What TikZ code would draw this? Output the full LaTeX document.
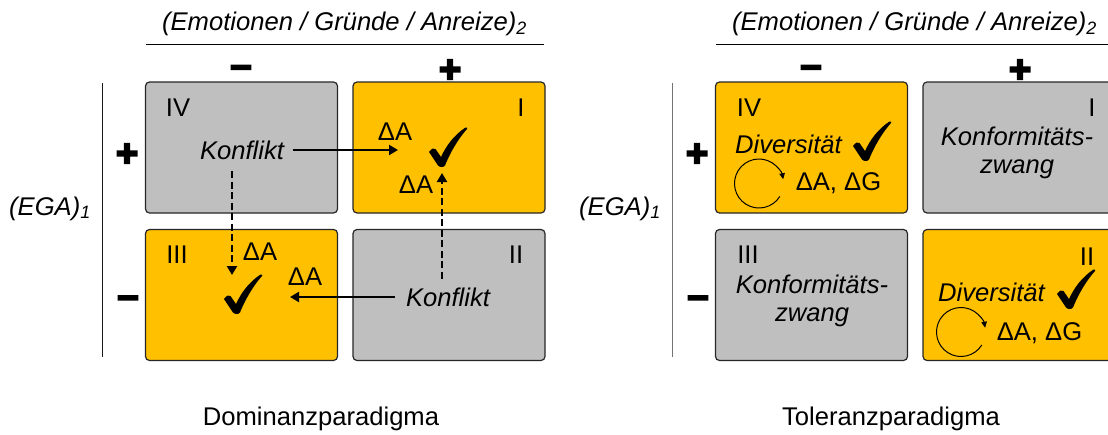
\documentclass[tikz,border=0pt]{standalone}
\usepackage{fontspec}
\setmainfont{Liberation Sans}
\newfontfamily\signfont{Liberation Sans Bold}[FakeBold=5]
\usetikzlibrary{arrows.meta}
\definecolor{quadorange}{HTML}{FFC000}
\definecolor{quadgray}{HTML}{BFBFBF}
\tikzset{
  quad/.style={draw=black!85, line width=1.2pt, rounded corners=4pt,
    minimum width=192pt, minimum height=131pt, inner sep=0pt},
  good/.style={quad, fill=quadorange},
  bad/.style={quad, fill=quadgray},
  txt/.style={font=\fontsize{25.6}{28}\selectfont, inner sep=2pt},
  itxt/.style={font=\fontsize{25.6}{28}\selectfont\itshape, inner sep=2pt},
  sgn/.style={font=\fontsize{38}{38}\signfont, inner sep=0pt},
  push/.style={line width=2.8pt, -{Triangle[length=9pt,width=10pt]}},
  dpush/.style={push, dash pattern=on 7pt off 3.5pt},
  cyc/.style={line width=1pt, -{Triangle[length=6pt,width=5.5pt]}},
  chk/.pic={
    \fill (-13,-14) .. controls (-10.5,-17.5) and (-8,-18.5) .. (-6.5,-17) -- (-1,-9)
      .. controls (4,-20) and (12,-31) .. (23.5,-38.5)
      .. controls (24.8,-39) and (25.8,-38) .. (25,-37)
      .. controls (16,-27) and (8,-13) .. (3,-0.5)
      .. controls (2,1.5) and (-2.5,1.5) .. (-4,-0.5) -- cycle;
  }
}

\begin{document}
\begin{tikzpicture}[x=1pt,y=-1pt]
\useasboundingbox (0,0) rectangle (1108,434);

%% Dominanzparadigma (left)
% heading
\node[itxt] (headL) at (344.5,24) {(Emotionen / Gründe / Anreize)\textsubscript{2}};
\draw[line width=1.2pt] (146,44.5) -- (544,44.5);
\node[sgn] (colminusL) at (241,71.5) {–};
\node[sgn] (colplusL) at (450,71) {+};
% axis
\draw[line width=1pt, black!90] (102,83) -- (102,357);
\node[sgn] (rowplusL) at (127,155) {+};
\node[sgn] (rowminusL) at (128,302) {–};
\node[itxt] (egaL) at (50,208.5) {(EGA)\textsubscript{1}};
% quadrants
\node[bad]  (qIVL)  at (241.5,147.5) {};
\node[good] (qIL)   at (449,147.5) {};
\node[good] (qIIIL) at (241.5,295) {};
\node[bad]  (qIIL)  at (449,295) {};
\node[txt] (numIVL)  at (178,108) {IV};
\node[txt] (numIL)   at (521,108) {I};
\node[txt] (numIIIL) at (177,255) {III};
\node[txt] (numIIL)  at (516,255) {II};
% conflicts
\node[itxt] (konfIV) at (242,150) {Konflikt};
\node[itxt] (konfII) at (448,297) {Konflikt};
\node[txt] (dAa) at (395,132) {ΔA};
\node[txt] (dAb) at (416,185) {ΔA};
\node[txt] (dAc) at (260,252) {ΔA};
\node[txt] (dAd) at (305,277) {ΔA};
\pic at (442,166) {chk};
\pic at (237,313) {chk};
\coordinate (tipI) at (398,149);
\coordinate (tipIup) at (442,173);
\coordinate (tipIII) at (232,275);
\coordinate (tipIIIleft) at (290,296);
\draw[push, shorten <=7pt] (konfIV.east) -- (konfIV.east -| tipI);
\draw[dpush, shorten <=9.5pt] (konfIV.south -| tipIII) -- (tipIII);
\draw[dpush, shorten <=6.5pt] (konfII.north -| tipIup) -- (tipIup);
\draw[push, shorten <=9pt] (konfII.west) -- (konfII.west -| tipIIIleft);
\node[txt] (titleL) at (321,419) {Dominanzparadigma};

%% Toleranzparadigma (right)
% heading
\node[itxt] (headR) at (914.5,24) {(Emotionen / Gründe / Anreize)\textsubscript{2}};
\draw[line width=1.2pt] (716,44.5) -- (1114,44.5);
\node[sgn] (colminusR) at (811,71.5) {–};
\node[sgn] (colplusR) at (1020,71) {+};
% axis
\draw[line width=1pt, black!55] (672,83) -- (672,357);
\node[sgn] (rowplusR) at (697,155) {+};
\node[sgn] (rowminusR) at (698,302) {–};
\node[itxt] (egaR) at (620,208.5) {(EGA)\textsubscript{1}};
% quadrants
\node[good] (qIVR)  at (811.5,147.5) {};
\node[bad]  (qIR)   at (1019,147.5) {};
\node[bad]  (qIIIR) at (811.5,295) {};
\node[good] (qIIR)  at (1019,295) {};
\node[txt] (numIVR)  at (749,108) {IV};
\node[txt] (numIR)   at (1092,108) {I};
\node[txt] (numIIIR) at (748,255) {III};
\node[txt] (numIIR)  at (1087,257) {II};
% diversity
\node[itxt] (divIV) at (788.5,144) {Diversität};
\node[itxt] (divII) at (991.5,292) {Diversität};
\pic at (866,160) {chk};
\pic at (1070,308) {chk};
\coordinate (loopIV) at (759,183.5);
\coordinate (loopII) at (961,332);
\draw[cyc] ([shift={(32:24.5)}]loopIV) arc[start angle=32, end angle=350, radius=24.5];
\draw[cyc] ([shift={(32:24.5)}]loopII) arc[start angle=32, end angle=350, radius=24.5];
\node[txt] (dAGIV) at (838.5,183) {ΔA, ΔG};
\node[txt] (dAGII) at (1039.5,333) {ΔA, ΔG};
% conformity
\node[itxt, align=center] (zwangI) at (1017,153) {Konformitäts-\\zwang};
\node[itxt, align=center] (zwangIII) at (812,301) {Konformitäts-\\zwang};
\node[txt] (titleR) at (891,419) {Toleranzparadigma};
\end{tikzpicture}
\end{document}
